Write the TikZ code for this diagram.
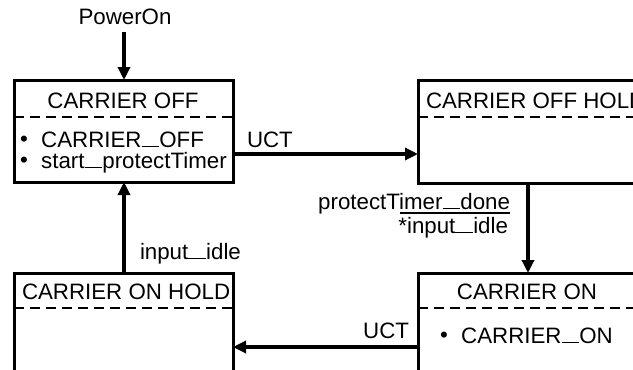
\documentclass[tikz,border=0pt]{standalone}
\usepackage{fontspec}
\setmainfont{Liberation Sans}
\usetikzlibrary{arrows.meta}
\newcommand\us{\rule[-0.3pt]{0.8em}{1.4pt}}
\newcommand\bul{\makebox[0.95em][l]{\raisebox{0.5pt}{\textbullet}}}
\tikzset{
  box/.style={draw, line width=3pt, rectangle, inner sep=0pt, outer sep=0pt, anchor=north west},
  sep/.style={line width=2.2pt, dash pattern=on 10pt off 6pt},
  txt/.style={inner sep=0pt, outer sep=0pt, font=\fontsize{22.3}{25}\selectfont},
  arr/.style={line width=3.5pt, -{Triangle[length=13pt,width=12pt]}}
}
\begin{document}
\begin{tikzpicture}[x=1pt,y=-1pt]
\useasboundingbox (0,0) rectangle (633,370);
\clip (0,0) rectangle (633,370);
% boxes
\node[box, minimum width=219pt, minimum height=102pt] (off) at (14,80) {};
\node[box, minimum width=240pt, minimum height=103pt] (offhold) at (418,80) {};
\node[box, minimum width=240pt, minimum height=140pt] (on) at (418,273) {};
\node[box, minimum width=219pt, minimum height=140pt] (onhold) at (14,273) {};
% separators
\draw[sep] (14,117) -- (233,117);
\draw[sep] (418,117) -- (640,117);
\draw[sep] (418,308) -- (640,308);
\draw[sep] (14,308) -- (233,308);
% texts
\node[txt, anchor=base] (t1) at (123,108) {CARRIER OFF};
\node[txt, anchor=base west] (i1) at (20,147) {\bul CARRIER\us OFF};
\node[txt, anchor=base west] (i2) at (20,168) {\bul start\us protectTimer};
\node[txt, anchor=base west] (t2) at (426,108) {CARRIER OFF HOLD};
\node[txt, anchor=base] (t3) at (527,299) {CARRIER ON};
\node[txt, anchor=base west] (i3) at (440,343) {\bul CARRIER\us ON};
\node[txt, anchor=base west] (t4) at (22,299) {CARRIER ON HOLD};
% labels
\node[txt, anchor=base] (pwr) at (125,24) {PowerOn};
\node[txt, anchor=base west] (uct1) at (247,147) {UCT};
\node[txt, anchor=base east] (uct2) at (409,338) {UCT};
\node[txt, anchor=base west] (idle) at (140,259) {input\us idle};
\node[txt, anchor=base east] (ptd) at (510,209) {protectTimer\us done};
\node[txt, anchor=base east] (inidle) at (508,233) {*input\us idle};
\draw[line width=1.5pt] (400,213) -- (510,213);
% connectors
\coordinate (p1) at (124,32);
\draw[arr] (p1) -- (p1 |- off.north);
\coordinate (a1) at (233,154);
\draw[arr] (a1) -- (a1 -| offhold.west);
\coordinate (v1) at (528,183);
\draw[arr] (v1) -- (v1 |- on.north);
\coordinate (a2) at (418,347);
\draw[arr] (a2) -- (a2 -| onhold.east);
\coordinate (v2) at (124,273);
\draw[arr] (v2) -- (v2 |- off.south);
\end{tikzpicture}
\end{document}
